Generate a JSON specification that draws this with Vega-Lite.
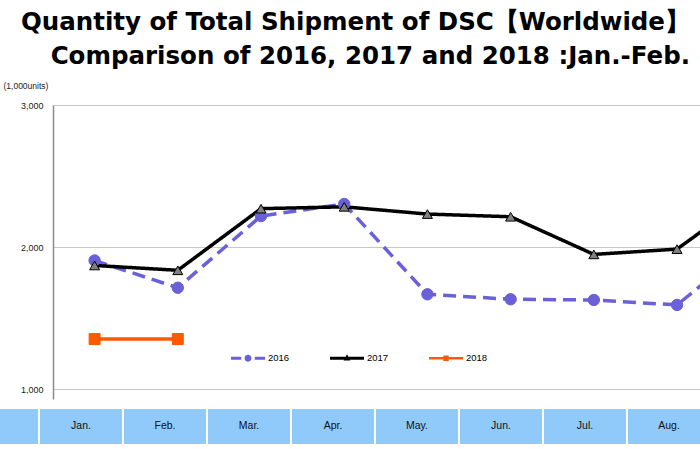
{
  "$schema": "https://vega.github.io/schema/vega-lite/v6.json",
  "width": 647,
  "height": 294,
  "autosize": {"type": "none"},
  "padding": {"left": 53, "top": 105, "right": 0, "bottom": 50},
  "background": "white",
  "config": {"view": {"stroke": null}, "font": "Liberation Sans"},
  "title": {
    "text": ["Quantity of Total Shipment of DSC【Worldwide】", "Comparison of 2016, 2017 and 2018 :Jan.-Feb."],
    "anchor": "end",
    "frame": "group",
    "align": "right",
    "font": "DejaVu Sans",
    "fontSize": 24.5,
    "fontWeight": "bold",
    "lineHeight": 34,
    "color": "#000000",
    "offset": 12,
    "dx": -10
  },
  "datasets": {
    "ship": [
      {"year": "2016", "month": "Jan.", "m": 1, "v": 1905},
      {"year": "2016", "month": "Feb.", "m": 2, "v": 1713},
      {"year": "2016", "month": "Mar.", "m": 3, "v": 2218},
      {"year": "2016", "month": "Apr.", "m": 4, "v": 2303},
      {"year": "2016", "month": "May.", "m": 5, "v": 1667},
      {"year": "2016", "month": "Jun.", "m": 6, "v": 1632},
      {"year": "2016", "month": "Jul.", "m": 7, "v": 1627},
      {"year": "2016", "month": "Aug.", "m": 8, "v": 1592},
      {"year": "2016", "month": "Sep.", "m": 9, "v": 2070},
      {"year": "2017", "month": "Jan.", "m": 1, "v": 1870},
      {"year": "2017", "month": "Feb.", "m": 2, "v": 1836},
      {"year": "2017", "month": "Mar.", "m": 3, "v": 2270},
      {"year": "2017", "month": "Apr.", "m": 4, "v": 2283},
      {"year": "2017", "month": "May.", "m": 5, "v": 2232},
      {"year": "2017", "month": "Jun.", "m": 6, "v": 2213},
      {"year": "2017", "month": "Jul.", "m": 7, "v": 1948},
      {"year": "2017", "month": "Aug.", "m": 8, "v": 1985},
      {"year": "2017", "month": "Sep.", "m": 9, "v": 2410},
      {"year": "2018", "month": "Jan.", "m": 1, "v": 1352},
      {"year": "2018", "month": "Feb.", "m": 2, "v": 1352}
    ],
    "cells": [
      {"cell": " "},
      {"cell": "Jan."},
      {"cell": "Feb."},
      {"cell": "Mar."},
      {"cell": "Apr."},
      {"cell": "May."},
      {"cell": "Jun."},
      {"cell": "Jul."},
      {"cell": "Aug."}
    ]
  },
  "layer": [
    {
      "data": {"name": "ship"},
      "mark": {"type": "line", "strokeWidth": 3.5, "clip": true},
      "encoding": {
        "x": {"field": "m", "type": "quantitative", "scale": {"domain": [0.5, 8.276], "nice": false, "zero": false}, "axis": null},
        "y": {
          "field": "v", "type": "quantitative",
          "scale": {"domain": [929.6, 3000], "nice": false, "zero": false},
          "axis": {
            "values": [1000, 2000, 3000], "format": ",.0f", "grid": true, "gridColor": "#c8c8c8", "gridWidth": 1,
            "ticks": false, "tickSize": 0, "labelPadding": 10, "labelFontSize": 9, "labelColor": "#222222",
            "domainColor": "#8c8c8c", "domainWidth": 1.5,
            "title": "(1,000units)", "titleAngle": 0, "titleX": -50, "titleY": -20, "titleAlign": "left",
            "titleBaseline": "middle", "titleFontSize": 8.5, "titleFontWeight": "normal", "titleColor": "#222222"
          }
        },
        "stroke": {
          "field": "year", "type": "nominal",
          "scale": {"domain": ["2016", "2017", "2018"], "range": ["#6a60d8", "#000000", "#ff5a00"]},
          "legend": {
            "orient": "none", "legendX": 178, "legendY": 236, "direction": "horizontal", "title": null,
            "padding": 0, "columnPadding": 40, "labelFontSize": 9.5, "labelColor": "#000000", "labelOffset": 3,
            "symbolSize": 1156,
            "encode": {
              "symbols": {
                "update": {
                  "shape": {"signal": "datum.value === '2016' ? 'M-1,-0.09H-0.4V0.09H-1Z M0.4,-0.09H1V0.09H0.4Z M0.2,0A0.2,0.2 0 1 1 -0.2,0A0.2,0.2 0 1 1 0.2,0Z' : datum.value === '2017' ? 'M-1,-0.09H1V0.09H-1Z M0,-0.24L0.2,0.13L-0.2,0.13Z' : 'M-1,-0.08H1V0.08H-1Z M-0.16,-0.16H0.16V0.16H-0.16Z'"},
                  "fill": {"scale": "stroke", "field": "value"},
                  "stroke": {"value": "transparent"},
                  "strokeWidth": {"value": 0},
                  "strokeDash": {"value": []},
                  "size": {"value": 1156},
                  "opacity": {"value": 1}
                }
              }
            }
          }
        },
        "strokeDash": {
          "field": "year", "type": "nominal",
          "scale": {"domain": ["2016", "2017", "2018"], "range": [[13, 7], [1, 0], [1, 0]]},
          "legend": null
        }
      }
    },
    {
      "data": {"name": "ship"},
      "transform": [{"filter": "datum.year === '2016'"}],
      "mark": {"type": "point", "shape": "circle", "filled": true, "size": 130, "fill": "#6a60d8", "stroke": "#6a60d8", "strokeWidth": 1, "opacity": 1, "clip": true},
      "encoding": {
        "x": {"field": "m", "type": "quantitative", "scale": {"domain": [0.5, 8.276], "nice": false, "zero": false}, "axis": null},
        "y": {"field": "v", "type": "quantitative"}
      }
    },
    {
      "data": {"name": "ship"},
      "transform": [{"filter": "datum.year === '2017'"}],
      "mark": {"type": "point", "shape": "triangle-up", "filled": true, "size": 100, "fill": "#808080", "stroke": "#000000", "strokeWidth": 1, "opacity": 1, "clip": true},
      "encoding": {
        "x": {"field": "m", "type": "quantitative", "scale": {"domain": [0.5, 8.276], "nice": false, "zero": false}, "axis": null},
        "y": {"field": "v", "type": "quantitative"}
      }
    },
    {
      "data": {"name": "ship"},
      "transform": [{"filter": "datum.year === '2018'"}],
      "mark": {"type": "point", "shape": "square", "filled": true, "size": 120, "fill": "#ff5a00", "stroke": "#ff5a00", "strokeWidth": 1, "opacity": 1, "clip": true},
      "encoding": {
        "x": {"field": "m", "type": "quantitative", "scale": {"domain": [0.5, 8.276], "nice": false, "zero": false}, "axis": null},
        "y": {"field": "v", "type": "quantitative"}
      }
    },
    {
      "data": {"name": "cells"},
      "mark": {"type": "rect", "fill": "#8fcafa"},
      "encoding": {
        "x": {
          "field": "cell", "type": "nominal",
          "scale": {"type": "band", "domain": [" ", "Jan.", "Feb.", "Mar.", "Apr.", "May.", "Jun.", "Jul.", "Aug.", "Sep."], "range": [-98, 742], "paddingInner": 0.0238, "paddingOuter": 0.0119},
          "axis": null
        },
        "y": {"datum": 860, "type": "quantitative"},
        "y2": {"datum": 613}
      }
    },
    {
      "data": {"name": "cells"},
      "mark": {"type": "text", "fontSize": 10.5, "color": "#111111", "baseline": "middle", "align": "center"},
      "encoding": {
        "x": {
          "field": "cell", "type": "nominal", "bandPosition": 0.5,
          "scale": {"type": "band", "domain": [" ", "Jan.", "Feb.", "Mar.", "Apr.", "May.", "Jun.", "Jul.", "Aug.", "Sep."], "range": [-98, 742], "paddingInner": 0.0238, "paddingOuter": 0.0119},
          "axis": null
        },
        "y": {"datum": 736, "type": "quantitative"},
        "text": {"field": "cell"}
      }
    }
  ],
  "resolve": {"scale": {"x": "independent"}}
}
